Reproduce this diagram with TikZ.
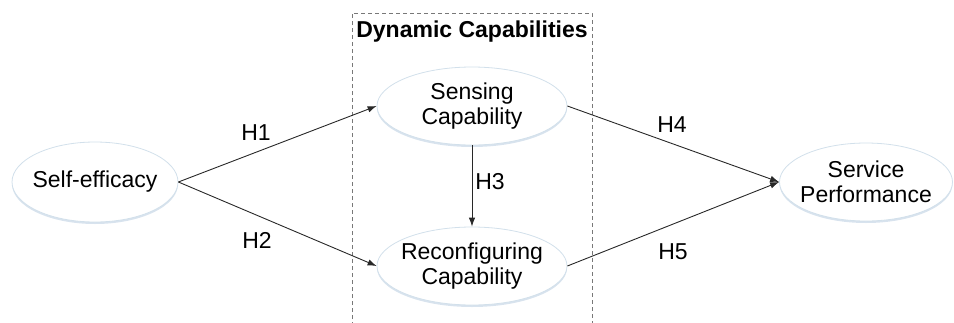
\documentclass[tikz,border=0pt]{standalone}
\usepackage{fontspec}
\setmainfont{Liberation Sans}
\usetikzlibrary{shapes.geometric,arrows.meta,shadows}
\definecolor{edgeblue}{RGB}{210,224,235}
\definecolor{shadeblue}{RGB}{190,208,226}
\definecolor{linegray}{RGB}{40,40,40}
\definecolor{boxgray}{RGB}{120,120,120}
\tikzset{
  construct/.style={ellipse, draw=edgeblue, line width=0.8pt, fill=white,
    inner sep=0pt, minimum width=#1,
    drop shadow={shadow xshift=0pt, shadow yshift=-2pt, fill=shadeblue, opacity=0.6}},
  cname/.style={align=center, inner sep=0pt, font=\fontsize{23}{24.5}\selectfont},
  path/.style={draw=linegray, line width=0.9pt, -{Latex[length=9pt,width=6.5pt]}},
  hyp/.style={font=\fontsize{23}{25}\selectfont, inner sep=0pt},
  groupbox/.style={draw=boxgray, line width=0.7pt, dash pattern=on 4pt off 3pt}
}
\begin{document}
\begin{tikzpicture}[x=1pt,y=-1pt]
\useasboundingbox (0,0) rectangle (954,322);
\begin{scope}
  \clip (0,0) rectangle (954,322);
  \draw[groupbox] (352,340) -- (352,13) -- (592,13) -- (592,340);
\end{scope}
\node[font=\bfseries\fontsize{23}{25}\selectfont, inner sep=0pt] (title) at (472,32) {Dynamic Capabilities};

% ellipses of fixed size; names set on top as centred labels
\node[construct=166pt, minimum height=80pt,
  label={[cname]center:Self-efficacy}] (self) at (95,182) {};
\node[construct=190pt, minimum height=78pt,
  label={[cname]center:Sensing\\Capability}] (sens) at (472,106) {};
\node[construct=190pt, minimum height=78pt,
  label={[cname]center:Reconfiguring\\Capability}] (reconf) at (472,266) {};
\node[construct=173pt, minimum height=78pt,
  label={[cname]center:Service\\Performance}] (serv) at (866,182) {};

\draw[path] (self.east) -- (sens.west);
\draw[path] (self.east) -- (reconf.west);
\draw[path] (sens.south) -- (reconf.north);
\draw[path] (sens.east) -- (serv.west);
\draw[path] (reconf.east) -- (serv.west);

\node[hyp] (h1) at (256,133) {H1};
\node[hyp] (h2) at (257,240) {H2};
\node[hyp] (h3) at (490,182) {H3};
\node[hyp] (h4) at (672,125) {H4};
\node[hyp] (h5) at (673,252) {H5};
\end{tikzpicture}
\end{document}
